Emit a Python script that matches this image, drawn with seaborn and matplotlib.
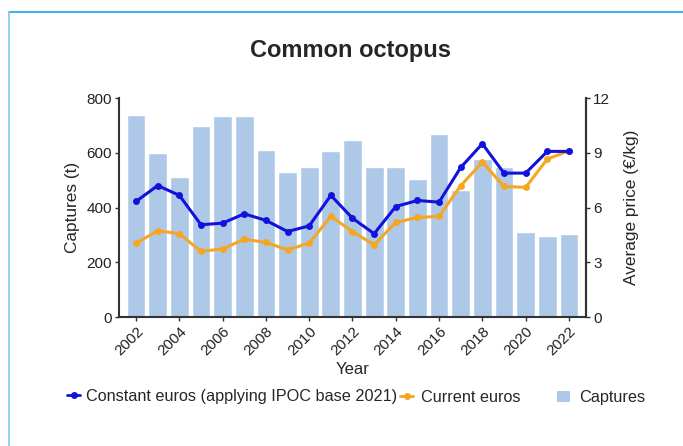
import numpy as np
import pandas as pd
import matplotlib
matplotlib.use("Agg")
import matplotlib.pyplot as plt
from matplotlib.lines import Line2D
from matplotlib.patches import Patch
import seaborn as sns

years = list(range(2002, 2023))
captures = [739, 599, 511, 699, 736, 733, 610, 531, 550, 608, 647,
            548, 548, 503, 670, 464, 577, 548, 310, 295, 304]
constant_euros = [6.34, 7.21, 6.67, 5.06, 5.15, 5.66, 5.30, 4.69, 5.00, 6.67, 5.42,
                  4.57, 6.06, 6.39, 6.30, 8.20, 9.50, 7.89, 7.89, 9.08, 9.08]
current_euros = [4.05, 4.73, 4.57, 3.60, 3.74, 4.27, 4.09, 3.69, 4.05, 5.52, 4.69,
                 3.96, 5.19, 5.46, 5.52, 7.20, 8.49, 7.16, 7.11, 8.66, 9.11]
left_ticks = [0, 200, 400, 600, 800]
right_ticks = [0, 3, 6, 9, 12]

sns.set_theme(style="white")
plt.rcParams['font.family'] = ['Liberation Sans', 'DejaVu Sans']

bar_color = "#aec8e8"
blue = "#1212dc"
orange = "#f5a623"
spine_color = "#333333"

df = pd.DataFrame({"Year": [str(y) for y in years], "Captures": captures,
                   "idx": np.arange(len(years)),
                   "Constant": constant_euros, "Current": current_euros})

fig = plt.figure(figsize=(6.83, 4.46), dpi=100)
ax = fig.add_axes([0.1742, 0.289, 0.858 - 0.1742, 0.780 - 0.289])
sns.barplot(data=df, x="Year", y="Captures", color=bar_color, saturation=1,
            width=0.87, ax=ax)
ax.set_xlim(-0.79, len(years) - 1 + 0.79)
ax.set_ylim(0, 800)
ax.set_yticks(left_ticks)
ax.set_yticklabels([str(t) for t in left_ticks], fontsize=11, color="#222222")
ax.set_xticks(np.arange(0, len(years), 2))
ax.set_xticklabels([str(y) for y in years[::2]], rotation=45, ha="right",
                   rotation_mode="anchor", fontsize=11, color="#222222")
ax.set_xlabel("Year", fontsize=12, labelpad=3)
ax.set_ylabel("Captures (t)", fontsize=12.4, labelpad=5)
ax.tick_params(axis="both", length=3, width=1, color=spine_color, pad=2, bottom=True, left=True)
ax.spines["top"].set_visible(False)
for s in ["left", "bottom", "right"]:
    ax.spines[s].set_color(spine_color)
    ax.spines[s].set_linewidth(1.5)

ax2 = ax.twinx()
sns.lineplot(data=df, x="idx", y="Current", color=orange, marker="o", markersize=5,
             markeredgewidth=0, linewidth=2.2, ax=ax2)
sns.lineplot(data=df, x="idx", y="Constant", color=blue, marker="o", markersize=5,
             markeredgewidth=0, linewidth=2.2, ax=ax2)
ax2.set_ylim(0, 12)
ax2.set_xlim(-0.79, len(years) - 1 + 0.79)
ax2.set_yticks(right_ticks)
ax2.set_yticklabels([str(t) for t in right_ticks], fontsize=11, color="#222222")
ax2.set_ylabel("Average price (€/kg)", fontsize=12.4, labelpad=10)
ax2.tick_params(axis="y", right=True, length=3, width=1, color=spine_color, pad=2)
ax2.spines["top"].set_visible(False)
ax2.spines["left"].set_visible(False)
ax2.spines["bottom"].set_visible(False)
ax2.spines["right"].set_color(spine_color)
ax2.spines["right"].set_linewidth(1.5)

fig.text(350 / 683, 1 - 51 / 446, "Common octopus", ha="center", va="center",
         fontsize=17, fontweight="bold")

common = dict(loc="center left", frameon=False, fontsize=11.7, handlelength=0.8,
              borderpad=0, borderaxespad=0)
fig.legend([Line2D([0], [0], color=blue, marker="o", markersize=4, linewidth=2)],
           ["Constant euros (applying IPOC base 2021)"],
           bbox_to_anchor=(67 / 683, 1 - 396 / 446), handletextpad=0.35, **common)
fig.legend([Line2D([0], [0], color=orange, marker="o", markersize=4, linewidth=2)],
           ["Current euros"],
           bbox_to_anchor=(400 / 683, 1 - 397.5 / 446), handletextpad=0.5, **common)
fig.legend([Patch(facecolor=bar_color, edgecolor="none")], ["Captures"],
           bbox_to_anchor=(557 / 683, 1 - 397.5 / 446), handletextpad=0.55, **common)

frame_color = "#12a5e6"
fig.add_artist(Line2D([9 / 683, 1.0], [1 - 12 / 446, 1 - 12 / 446],
                      transform=fig.transFigure, color=frame_color, linewidth=1.2))
fig.add_artist(Line2D([9 / 683, 9 / 683], [0, 1 - 12 / 446],
                      transform=fig.transFigure, color="#7fcaf0", linewidth=1.2))

fig.savefig("out.png", dpi=100)
